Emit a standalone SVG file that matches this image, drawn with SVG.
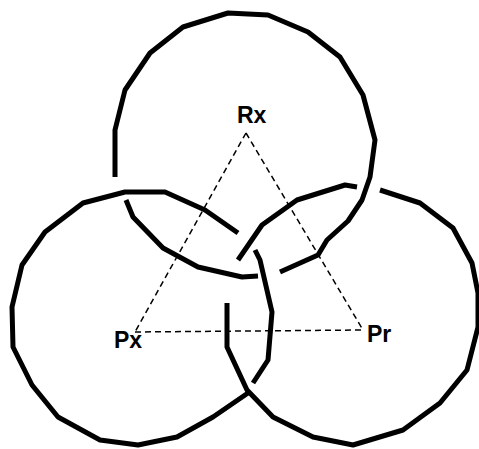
<svg xmlns="http://www.w3.org/2000/svg" width="479" height="449" viewBox="0 0 479 449">
<style>
.ring{fill:none;stroke:#000;stroke-width:5;stroke-linejoin:round;stroke-linecap:butt}
.lbl{font-family:"Liberation Sans",Arial,sans-serif;font-size:23px;font-weight:bold;fill:#000}
.dash{fill:none;stroke:#000;stroke-width:1.5;stroke-dasharray:6 4}
</style>
<rect width="479" height="449" fill="#fff"/>
<g id="connectors">
<line class="dash" x1="246" y1="133" x2="135" y2="332"/>
<line class="dash" x1="246" y1="133" x2="363" y2="330"/>
<line class="dash" x1="135" y1="332" x2="363" y2="330"/>
</g>
<g id="Rx">
<polyline class="ring" points="115,177 115,130 125,90 150,53 183,27 228,13 268,15 308,32 340,57 363,95 375,140 370,177 362,200 348,221 327,240 318,255 280,272"/>
<polyline class="ring" points="126,200 133,217 163,248 198,267 242,277 258,276"/>
<text class="lbl" x="237" y="123">Rx</text>
</g>
<g id="Px">
<polyline class="ring" points="238,233 205,210 165,192 125,192 83,203 45,232 22,265 12,307 13,347 32,385 58,417 100,440 138,445 177,437 213,417 248,393"/>
<polyline class="ring" points="255,250 260,260 272,312 268,360 253,383"/>
<text class="lbl" x="114" y="348">Px</text>
</g>
<g id="Pr">
<polyline class="ring" points="238,260 262,225 297,200 345,185 357,187"/>
<polyline class="ring" points="380,190 420,203 453,228 472,263 478,293 478,327 467,370 440,403 403,430 353,445 313,437 273,417 247,390 227,347 227,303"/>
<text class="lbl" x="367" y="342">Pr</text>
</g>
</svg>
